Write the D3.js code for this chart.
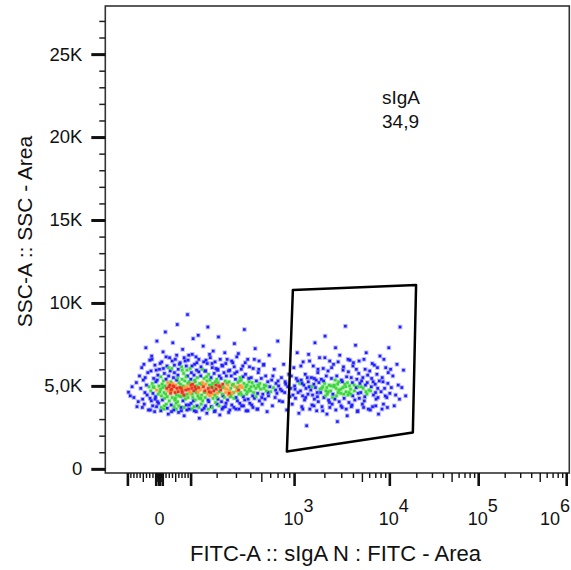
<!DOCTYPE html>
<html>
<head>
<meta charset="utf-8">
<script src="https://cdn.jsdelivr.net/npm/d3@7"></script>
<style>
  body { margin: 0; background: #fff; }
  svg { display: block; }
  text { font-family: "Liberation Sans", Arial, sans-serif; fill: #111; }
</style>
</head>
<body>
<div id="chart"></div>
<script>
// events: [FITC-A value, SSC-A in thousands]
// left population (sIgA negative side)
const negEvents = [
  [-98,4.62],[-86,4.95],[-80,4.3],[-72,5.2],[-66,4.05],[-62,5.6],[-92,4.4],[-70,3.75],
  [-58,4.85],[-55,6.1],[-52,4.2],[-50,5.35],[-47,3.9],[-45,4.6],[-42,7.3],[-40,5.05],[-38,4.45],[-36,5.8],[-34,3.55],[-32,4.95],[-30,6.55],[-29,4.25],[-44,5.5],
  [-27,4.7],[-26,5.9],[-25,4.1],[-24,6.8],[-22,5.15],[-21,3.8],[-20,4.55],[-18,5.45],[-17,4.9],[-15,3.45],[-14,6.25],[-12,4.35],[-11,5.25],[-9,4.75],[-8,7.7],[-6,4.05],[-5,5.65],[-4,4.5],[-3,3.95],[-2,5.0],[0,6.0],[1,4.65],[-19,4.95],[-7,5.35],[-13,4.2],
  [3,4.8],[4,5.55],[5,3.7],[6,4.4],[7,6.45],[8,5.1],[9,4.15],[10,4.9],[11,7.05],[12,5.3],[13,3.6],[14,4.6],[15,5.75],[16,4.25],[17,5.0],[18,8.25],[19,4.5],[20,5.4],[21,3.9],[22,4.85],[23,6.2],[24,4.35],[25,5.2],[26,4.7],[27,3.3],[28,5.6],[29,4.95],[30,4.1],[31,6.7],[32,5.05],
  [34,4.55],[35,5.25],[36,3.85],[37,4.8],[38,6.05],[39,4.3],[40,5.15],[41,7.6],[42,4.7],[43,5.5],[44,3.55],[45,4.95],[46,5.8],[47,4.15],[48,4.6],[49,6.6],[50,5.05],[51,3.95],[52,4.45],[53,5.35],[54,4.85],[55,8.7],[56,4.05],[57,5.65],[58,4.65],[59,3.4],[60,5.2],[61,4.4],[62,6.3],[63,4.9],[35,4.75],[42,5.0],[49,4.25],[56,5.45],[61,4.75],
  [65,5.1],[66,4.35],[67,3.7],[68,4.85],[69,6.15],[70,5.4],[71,4.6],[72,7.2],[73,4.1],[74,5.0],[75,5.75],[76,4.45],[77,3.2],[78,4.9],[79,5.3],[80,6.5],[81,4.2],[82,4.75],[83,5.55],[84,3.85],[85,4.95],[86,5.95],[87,4.5],[88,9.3],[89,5.15],[90,4.3],[91,4.8],[92,6.85],[93,5.25],[94,3.6],[95,4.65],[96,5.05],[70,4.7],[78,4.4],[88,5.6],
  [98,4.55],[99,5.4],[100,3.95],[102,4.85],[103,6.2],[105,5.1],[106,4.3],[107,7.85],[109,4.7],[110,5.65],[111,3.5],[113,4.95],[114,5.25],[115,4.15],[117,6.75],[118,4.6],[119,5.0],[121,3.8],[122,5.5],[123,4.4],[125,8.05],[126,4.9],[127,5.85],[128,4.25],[129,3.05],[130,5.15],[131,4.75],[101,5.8],[104,4.5],[108,4.1],[112,5.35],[116,4.8],[120,6.4],[124,4.6],[100,5.05],
  [133,4.8],[134,5.6],[136,3.9],[137,4.45],[139,6.0],[140,5.2],[141,4.1],[143,7.4],[144,4.95],[146,5.45],[147,3.65],[148,4.6],[150,5.9],[151,4.3],[153,5.1],[154,6.55],[155,4.75],[157,3.35],[158,5.3],[160,4.5],[161,8.55],[163,4.85],[164,5.7],[165,4.05],[167,5.05],[168,6.9],[169,4.4],[170,5.35],[135,4.25],[142,5.0],[149,4.7],[156,5.55],[162,4.15],[166,4.65],[138,5.1],
  [172,4.6],[174,5.5],[175,3.75],[177,4.9],[178,6.35],[180,5.15],[182,4.25],[183,7.1],[185,4.7],[187,5.75],[188,3.45],[190,4.45],[192,5.25],[193,4.0],[195,6.05],[196,4.8],[198,5.4],[200,3.9],[201,4.55],[203,5.95],[204,4.2],[206,7.95],[207,5.0],[209,4.65],[210,5.6],[212,3.25],[213,4.95],[176,5.0],[181,4.5],[189,4.85],[194,5.05],[199,4.3],[205,5.2],
  [216,4.75],[218,5.45],[220,4.05],[222,6.25],[224,4.5],[226,5.1],[228,3.7],[230,4.9],[232,5.8],[234,4.3],[236,7.0],[238,5.3],[240,4.6],[242,3.95],[244,5.6],[246,4.8],[248,6.6],[250,4.15],[252,5.05],[254,4.45],[256,3.4],[258,5.25],[260,4.7],[262,5.95],[264,4.35],[219,4.95],[227,4.4],[237,4.85],[247,5.15],[259,4.55],
  [267,4.85],[270,5.6],[273,3.85],[276,4.55],[279,6.4],[282,5.1],[285,4.25],[288,7.55],[291,4.95],[294,5.4],[297,3.6],[300,4.7],[303,5.85],[306,4.1],[309,5.2],[312,6.95],[315,4.5],[318,5.0],[321,3.95],[323,5.5],[268,4.4],[275,5.05],[283,4.6],[290,5.75],[298,4.3],[305,4.9],[313,4.75],[320,5.3],
  [326,4.6],[330,5.35],[333,3.8],[337,4.9],[341,6.2],[345,4.35],[349,5.15],[352,8.4],[356,4.75],[360,5.7],[364,3.5],[368,4.5],[372,5.05],[376,6.6],[380,4.2],[384,5.45],[388,4.8],[392,3.95],[328,5.0],[335,4.45],[343,5.55],[354,4.15],[362,4.95],[374,4.65],[386,5.25],
  [398,4.7],[404,5.5],[409,3.85],[415,4.4],[420,6.05],[426,5.0],[431,4.25],[437,7.25],[442,4.85],[448,5.3],[454,3.6],[459,4.55],[465,5.8],[470,4.95],[476,4.1],[481,5.15],[401,4.95],[412,5.2],[423,4.6],[445,4.35],[462,5.05],[473,6.5],
  [488,4.8],[495,5.45],[503,3.9],[510,4.5],[518,6.25],[526,5.05],[533,4.2],[541,5.6],[549,4.7],[557,3.45],[565,5.25],[573,4.4],[581,6.85],[589,4.95],[499,4.3],[522,4.85],[545,5.0],[569,4.6],
  [600,4.65],[612,5.35],[622,3.8],[635,4.9],[646,6.0],[658,4.3],[670,5.15],[683,4.55],[695,7.7],[708,5.0],[720,4.1],[628,5.6],[665,4.75],[700,5.3],
  [735,4.8],[752,5.5],[770,4.05],[788,6.3],[806,4.6],[824,5.1],[843,3.55],[862,4.95],[882,5.7],[900,4.35],[760,4.7],[815,5.25],
  // upper and lower edges of the band
  [-48,6.3],[-23,6.6],[-10,5.95],[2,6.35],[12,6.05],[20,6.75],[27,6.1],[33,5.9],[39,6.5],[46,6.25],[53,6.85],[58,6.0],[64,6.4],[71,5.95],[77,6.7],[84,6.2],[90,6.55],[97,6.05],[104,6.9],[112,6.3],[119,5.95],[127,6.6],[135,6.15],[145,6.45],[152,5.9],[159,6.35],[171,6.7],[179,6.1],[191,6.45],[202,6.0],[214,6.6],[225,6.2],[241,6.35],[255,5.9],[272,6.5],[287,6.15],[302,6.75],[331,6.0],[358,6.4],[390,6.15],[430,6.6],[470,6.0],[520,6.3],
  [-53,3.7],[-28,3.55],[-9,3.75],[4,3.5],[15,3.8],[24,3.65],[37,3.45],[45,3.75],[52,3.6],[60,3.8],[68,3.5],[76,3.7],[86,3.55],[93,3.85],[103,3.6],[110,3.75],[118,3.45],[127,3.7],[139,3.55],[152,3.8],[163,3.6],[179,3.7],[191,3.5],[208,3.8],[223,3.6],[239,3.75],[262,3.55],[285,3.7],[316,3.6],[346,3.8],[378,3.5],[418,3.7],[460,3.6]
];
// right population (sIgA positive side)
const posEvents = [
  [915,4.85],[930,5.6],[948,3.9],[965,4.45],[983,6.1],[1000,5.0],[1020,4.25],[1040,5.45],[1060,7.0],[1080,4.6],[1100,3.35],[1120,5.15],[1010,4.8],[1070,5.3],
  [1140,4.7],[1160,5.35],[1175,3.75],[1195,4.4],[1210,6.45],[1230,5.05],[1250,4.15],[1270,5.7],[1290,4.85],[1310,2.6],[1330,5.5],[1350,4.5],[1370,6.9],[1390,4.95],[1410,3.6],[1180,5.15],[1280,4.3],[1360,5.25],
  [1440,4.75],[1460,5.5],[1480,3.85],[1500,4.45],[1525,6.2],[1545,5.1],[1565,4.2],[1585,7.6],[1605,4.9],[1630,5.35],[1650,3.5],[1670,4.6],[1695,5.8],[1715,4.05],[1740,5.2],[1765,6.7],[1785,4.8],[1470,4.95],[1560,5.45],[1680,4.35],
  [1810,4.6],[1840,5.4],[1870,3.75],[1900,4.95],[1925,6.05],[1955,4.3],[1985,5.15],[2010,8.0],[2040,4.7],[2070,5.6],[2100,3.3],[2125,4.5],[2155,5.9],[2185,4.15],[2215,5.05],[2245,6.5],[1860,4.85],[1940,5.3],[2025,4.4],[2090,4.9],[2160,4.65],[2230,4.0],
  [2300,4.7],[2340,5.45],[2380,3.9],[2420,4.5],[2460,6.3],[2500,5.05],[2540,4.2],[2580,7.3],[2620,4.85],[2660,5.6],[2700,2.85],[2740,4.6],[2780,5.25],[2820,4.05],[2860,6.85],[2320,5.0],[2400,4.3],[2480,4.95],[2560,5.35],[2640,4.4],[2720,5.1],[2800,4.75],
  [2930,4.55],[2980,5.35],[3030,3.7],[3080,4.9],[3130,6.15],[3180,4.25],[3230,5.1],[3280,8.6],[3330,4.65],[3380,5.55],[3430,3.2],[3480,4.45],[3530,5.85],[3580,4.0],[3630,5.0],[3670,6.55],[2950,4.8],[3050,5.25],[3150,4.5],[3300,4.95],[3450,5.2],[3600,4.6],
  [3720,4.8],[3790,5.5],[3860,3.85],[3930,4.4],[4000,6.4],[4070,5.05],[4140,4.15],[4210,7.45],[4280,4.9],[4350,5.4],[4420,3.45],[4490,4.55],[4560,5.75],[4630,4.25],[4700,5.15],[3750,4.5],[3900,5.2],[4100,4.7],[4300,6.0],[4500,4.95],
  [4800,4.6],[4900,5.3],[5000,3.9],[5100,4.85],[5200,6.6],[5300,4.35],[5400,5.05],[5500,7.0],[5600,4.5],[5700,5.65],[5800,3.6],[5900,4.75],[6000,5.9],[4850,4.95],[5050,5.5],[5250,4.1],[5450,4.65],[5650,5.2],
  [6150,4.7],[6300,5.45],[6450,3.75],[6600,4.45],[6750,6.25],[6900,5.1],[7050,4.2],[7200,5.7],[7350,4.85],[7500,3.3],[7650,5.3],[7780,6.8],[6250,4.95],[6550,5.25],[6950,4.6],[7400,4.3],
  [8000,4.65],[8250,5.5],[8500,3.9],[8750,4.85],[9000,6.1],[9250,4.3],[9500,5.15],[9750,7.3],[10000,4.55],[8400,5.25],[8900,4.4],[9600,5.8],
  [10400,4.9],[10800,5.6],[11200,3.8],[11600,4.45],[12000,6.3],[12400,5.05],[12800,4.2],[13000,8.55],
  [14200,5.95],[13600,4.9],[15000,4.4],
  // upper and lower edges of the band
  [1150,6.2],[1400,6.5],[1700,6.0],[2000,6.7],[2350,6.1],[2750,6.45],[3100,5.95],[3500,6.6],[3950,6.2],[4600,6.5],[5350,6.0],[6400,6.35],[7300,6.1],[8600,6.6],[10200,6.0],
  [1200,3.6],[1550,3.8],[1900,3.5],[2250,3.7],[2600,3.55],[2950,3.8],[3350,3.6],[3800,3.75],[4450,3.5],[5150,3.7],[6100,3.55],[7000,3.8],[8200,3.6],[9400,3.7]
];

// gate polygon [FITC-A, SSC-A (K)] and its statistic
const gateVertices = [[963,10.78],[19640,11.08],[18060,2.19],[845,1.04]];
const gateName = "sIgA";
const gatePercent = "34,9";

// axis labels
const yTickValues = [0, 5, 10, 15, 20, 25];
const yTickLabels = ["0", "5,0K", "10K", "15K", "20K", "25K"];
const xLabelValues = [0, 1e3, 1e4, 1e5, 1e6];
const xLabelBase = ["0", "10", "10", "10", "10"];
const xLabelExp = ["", "3", "4", "5", "6"];
const xTitle = "FITC-A :: sIgA N : FITC - Area";
const yTitle = "SSC-A :: SSC - Area";

// layout
const svgW = 571, svgH = 570;
const plot = { left: 105.3, right: 569.3, top: 6, bottom: 473 };

const svg = d3.select("#chart").append("svg")
    .attr("width", svgW)
    .attr("height", svgH);

// biexponential (logicle-like) transform for the FITC axis
const P = 4, C = 23.38;
function logicleInverse(u) {
    const a = Math.abs(u);
    return Math.sign(u) * C * (Math.pow(10, a) - P * P * Math.pow(10, -a / P) + P * P - 1);
}
function logicle(v) {
    let lo = -3, hi = 7;
    for (let i = 0; i < 60; i++) {
        const mid = (lo + hi) / 2;
        if (logicleInverse(mid) < v) lo = mid; else hi = mid;
    }
    return (lo + hi) / 2;
}
const xDomain = [-185, 1.07e6];
const xLin = d3.scaleLinear().domain(xDomain.map(logicle)).range([plot.left, plot.right]);
const x = v => xLin(logicle(v));

const y = d3.scaleLinear().domain([-0.25, 27.9]).range([plot.bottom, plot.top]);

// dots, coloured by local density like a pseudocolor plot
const events = negEvents.concat(posEvents).map(d => ({ px: x(d[0]), py: y(d[1]) }));
events.forEach(e => {
    e.n = events.filter(o => (o.px - e.px) ** 2 + (o.py - e.py) ** 2 < 25).length - 1;
});
events.sort((a, b) => a.n - b.n);
const counts = events.map(e => e.n);
const densityColor = d3.scaleThreshold()
    .domain([d3.quantile(counts, 0.66), d3.quantile(counts, 0.9), d3.quantile(counts, 0.96)])
    .range(["#1e1eff", "#3cd43c", "#ff9a33", "#e8341e"]);

const dots = svg.append("g");
dots.selectAll(".halo").data(events).join("rect")
    .attr("class", "halo")
    .attr("x", d => d.px - 2.3)
    .attr("y", d => d.py - 2.3)
    .attr("width", 4.6)
    .attr("height", 4.6)
    .attr("fill", d => densityColor(d.n))
    .attr("opacity", 0.3);
dots.selectAll(".dot").data(events).join("rect")
    .attr("class", "dot")
    .attr("x", d => d.px - 1.3)
    .attr("y", d => d.py - 1.3)
    .attr("width", 2.6)
    .attr("height", 2.6)
    .attr("fill", d => densityColor(d.n));

// gate
svg.append("path")
    .attr("d", d3.line().x(d => x(d[0])).y(d => y(d[1])).curve(d3.curveLinearClosed)(gateVertices))
    .attr("fill", "none")
    .attr("stroke", "#000")
    .attr("stroke-width", 2.5)
    .attr("stroke-linejoin", "round");

svg.append("text").text(gateName)
    .attr("x", 382).attr("y", 104)
    .attr("font-size", 19);
svg.append("text").text(gatePercent)
    .attr("x", 382).attr("y", 128)
    .attr("font-size", 19);

// frame
svg.append("rect")
    .attr("x", plot.left).attr("y", plot.top)
    .attr("width", plot.right - plot.left)
    .attr("height", plot.bottom - plot.top)
    .attr("fill", "none")
    .attr("stroke", "#333")
    .attr("stroke-width", 1.6);

// y axis: minor ticks every 1K, major every 5K
const yMinor = svg.append("g")
    .attr("transform", `translate(${plot.left},0)`)
    .call(d3.axisLeft(y).tickValues(d3.range(0, 28)).tickSize(6).tickFormat(""));
yMinor.select(".domain").remove();
yMinor.selectAll("line").attr("stroke", "#222").attr("stroke-width", 1.5);

const yMajor = svg.append("g")
    .attr("transform", `translate(${plot.left},0)`)
    .call(d3.axisLeft(y).tickValues(yTickValues).tickSize(14).tickPadding(9)
        .tickFormat((d, i) => yTickLabels[i]));
yMajor.select(".domain").remove();
yMajor.selectAll("line").attr("stroke", "#111").attr("stroke-width", 3);
yMajor.selectAll("text")
    .attr("font-size", 18.5)
    .attr("font-family", "Liberation Sans, Arial, sans-serif")
    .attr("fill", "#111");

// x axis: logicle ticks, 1-9 x 10^d
const xTicks = [{ v: 0, len: 13 }];
for (let d = 0; d <= 6; d++) {
    for (let k = 1; k <= 9; k++) {
        const v = k * Math.pow(10, d);
        const len = k === 1 ? 13 : (k === 5 ? 9 : 5);
        if (v <= xDomain[1]) xTicks.push({ v: v, len: len });
        if (-v >= xDomain[0]) xTicks.push({ v: -v, len: len });
    }
}
svg.append("g").selectAll("line").data(xTicks).join("line")
    .attr("x1", d => x(d.v)).attr("x2", d => x(d.v))
    .attr("y1", plot.bottom).attr("y2", d => plot.bottom + d.len)
    .attr("stroke", "#111")
    .attr("stroke-width", d => d.len === 13 ? 2.6 : 1.4);

// x tick labels with superscript exponents
xLabelValues.forEach((v, i) => {
    const t = svg.append("text")
        .attr("font-size", 18)
        .attr("y", 525);
    if (xLabelExp[i] === "") {
        t.attr("x", x(v)).attr("text-anchor", "middle").text(xLabelBase[i]);
    } else {
        let sx = x(v) - 11;
        if (sx + 30 > svgW - 1) sx = svgW - 31;
        t.attr("x", sx).text(xLabelBase[i]);
        t.append("tspan").attr("dy", -13).text(xLabelExp[i]);
    }
});

// axis titles
svg.append("text").text(xTitle)
    .attr("x", 335.5).attr("y", 561)
    .attr("text-anchor", "middle")
    .attr("font-size", 22);
svg.append("text").text(yTitle)
    .attr("transform", `translate(32,231.5) rotate(-90)`)
    .attr("text-anchor", "middle")
    .attr("font-size", 21);
</script>
</body>
</html>
